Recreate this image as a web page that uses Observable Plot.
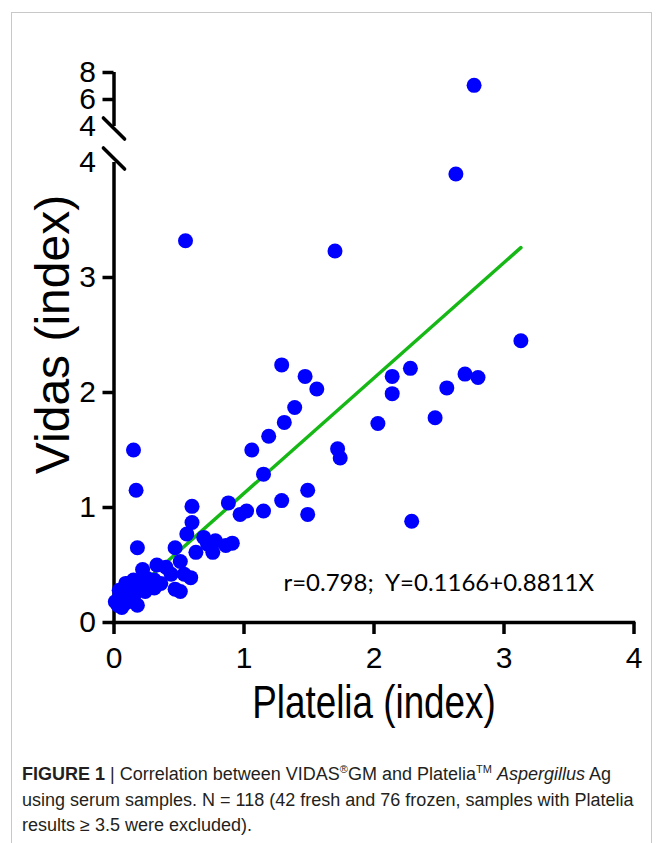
<!DOCTYPE html>
<html><head><meta charset="utf-8">
<script src="https://cdn.jsdelivr.net/npm/d3@7"></script>
<script src="https://cdn.jsdelivr.net/npm/@observablehq/plot@0.6"></script>
<style>
html,body{margin:0;padding:0;background:#fff;}
body{width:663px;height:843px;position:relative;overflow:hidden;}
#panel{position:absolute;left:11px;top:12px;width:641px;height:900px;border:1px solid #c8c8c8;box-sizing:border-box;}
.layer{position:absolute;left:0;top:0;}
#caption{position:absolute;left:22px;top:762px;width:630px;font-family:"Liberation Sans",Arial,sans-serif;font-size:18px;line-height:25.5px;color:#231f20;white-space:nowrap;}
#caption .sup{font-size:11px;vertical-align:7px;line-height:0;}
</style></head><body>
<div id="panel"></div>
<div id="lower" class="layer"></div>
<div id="upper" class="layer"></div>
<div id="caption"><b>FIGURE 1</b> | Correlation between VIDAS<span class="sup">®</span>GM and Platelia<span class="sup">TM</span> <i>Aspergillus</i> Ag<br>using serum samples. N = 118 (42 fresh and 76 frozen, samples with Platelia<br>results ≥ 3.5 were excluded).</div>
<script>
// ---- data ----
const platelia = [2.77,0.55,1.70,2.63,3.13,1.29,1.47,1.56,1.39,1.31,1.19,1.06,1.15,1.72,1.74,2.03,2.28,2.14,2.14,2.70,2.80,2.56,2.47,2.29,
  1.49,1.49,1.29,1.15,1.02,0.97,0.88,0.60,0.60,0.56,0.47,0.51,0.69,0.78,0.91,0.86,0.63,0.72,0.76,0.33,0.40,0.44,0.54,0.59,0.47,0.51,
  0.15,0.17,0.18,0.22,0.31,0.24,0.31,0.15,0.09,0.04,0.13,0.20,0.05,0.01,0.06,0.18,0.15,0.24,0.04,0.10,0.12,0.08,0.27,0.20,0.17,0.03,0.09,0.14,0.36,0.26,0.11];
const vidas = [7.05,3.32,3.23,3.90,2.45,2.24,2.14,2.03,1.87,1.74,1.62,1.50,1.29,1.51,1.43,1.73,2.21,2.14,1.99,2.16,2.13,2.04,1.78,0.88,
  1.15,0.94,1.06,0.97,0.97,0.94,1.04,1.01,0.87,0.77,0.65,0.53,0.74,0.71,0.69,0.67,0.61,0.68,0.61,0.50,0.48,0.42,0.42,0.39,0.29,0.27,
  1.50,1.15,0.65,0.46,0.37,0.34,0.30,0.37,0.34,0.28,0.25,0.29,0.19,0.18,0.13,0.15,0.22,0.27,0.22,0.30,0.20,0.24,0.32,0.36,0.31,0.15,0.17,0.28,0.34,0.38,0.34];
const fitX = [0.05, 3.13];
const fitY = [0.17, 3.26];
const xTicks = [0, 1, 2, 3, 4];
const lowerDomain = [0, 4];
const upperDomain = [4, 8];
const yTicksLower = [0, 1, 2, 3];
const yTicksUpper = [6, 8];
const annotation = "r=0.798;  Y=0.1166+0.8811X";
const xTitle = "Platelia (index)";
const yTitle = "Vidas (index)";

const points = platelia.map((x, i) => ({x, y: vidas[i]}));
const fit = fitX.map((x, i) => ({x, y: fitY[i]}));

// ---- layout ----
const W = 663, mL = 113.5, mR = 29.5;
const H = 740, mT = 162, mB = 118;          // lower panel (0..4)
const HU = 140, mTU = 72, mBU = 14;         // upper panel (4..8)
const font = "'Liberation Sans', Arial, sans-serif";
const fmt = d => String(Math.round(d));
const breakShape = {draw(ctx, l) { ctx.moveTo(0, -l / 2); ctx.lineTo(0, l / 2); }};
const axisStyle = {tickSize: 11, tickPadding: 7, fontSize: 30, strokeWidth: 3.5, tickFormat: fmt, label: null};

const lower = Plot.plot({
  width: W, height: H,
  marginLeft: mL, marginRight: mR, marginTop: mT, marginBottom: mB,
  style: {fontFamily: font, background: "transparent", overflow: "visible", color: "black"},
  x: {domain: [0, 4]},
  y: {domain: lowerDomain},
  marks: [
    Plot.ruleY([0], {x1: 0, x2: 4, strokeWidth: 3.5, strokeLinecap: "square"}),
    Plot.ruleX([lowerDomain], {x: 0, y1: d => d[0], y2: d => d[1], strokeWidth: 3.5}),
    Plot.axisX({...axisStyle, ticks: xTicks, tickSize: 12, tickPadding: 12}),
    Plot.axisY({...axisStyle, ticks: yTicksLower}),
    Plot.axisY({...axisStyle, ticks: [lowerDomain[1]], tickSize: 0, tickPadding: 18}),
    Plot.vector([lowerDomain[1]], {x: 0, y: d => d, length: 30, rotate: -45, anchor: "start", shape: breakShape, stroke: "black", strokeWidth: 3.5, dy: -4}),
    Plot.line(fit, {x: "x", y: "y", stroke: "#16b816", strokeWidth: 3.5}),
    Plot.dot(points, {filter: d => d.y <= 4, x: "x", y: "y", r: 7.5, fill: "#0000ff", stroke: null}),
    Plot.text([annotation], {frameAnchor: "bottom-right", text: d => d, textAnchor: "end", lineAnchor: "bottom", dx: -40, dy: -32, fontSize: 24, fontFamily: "Lato"}),
    Plot.text([xTitle], {frameAnchor: "bottom", text: d => d, dy: 95, fontSize: 46}),
    Plot.text([yTitle], {frameAnchor: "left", text: d => d, rotate: -90, textAnchor: "middle", lineAnchor: "middle", dx: -60, dy: -58, fontSize: 48})
  ]
});

const upper = Plot.plot({
  width: W, height: HU,
  marginLeft: mL, marginRight: mR, marginTop: mTU, marginBottom: mBU,
  style: {fontFamily: font, background: "transparent", overflow: "visible", color: "black"},
  x: {domain: [0, 4], axis: null},
  y: {domain: upperDomain},
  marks: [
    Plot.ruleX([upperDomain], {x: 0, y1: d => d[0], y2: d => d[1], strokeWidth: 3.5}),
    Plot.axisY({...axisStyle, ticks: yTicksUpper}),
    Plot.axisY({...axisStyle, ticks: [upperDomain[0]], tickSize: 0, tickPadding: 18}),
    Plot.vector([upperDomain[0]], {x: 0, y: d => d, length: 30, rotate: -45, anchor: "start", shape: breakShape, stroke: "black", strokeWidth: 3.5, dy: 2}),
    Plot.dot(points, {filter: d => d.y > 4, x: "x", y: "y", r: 7.5, fill: "#0000ff", stroke: null})
  ]
});

document.getElementById("lower").appendChild(lower);
document.getElementById("upper").appendChild(upper);

// x title is horizontally condensed in the reference
d3.select(lower).selectAll("text").filter(function() { return this.textContent === xTitle; })
  .each(function() {
    const t = d3.select(this);
    const x = +t.attr("x") || 0;
    const prev = t.attr("transform") || "";
    t.attr("transform", `${prev} translate(${x},0) scale(0.8,1) translate(${-x},0)`);
  });
</script>
</body></html>
